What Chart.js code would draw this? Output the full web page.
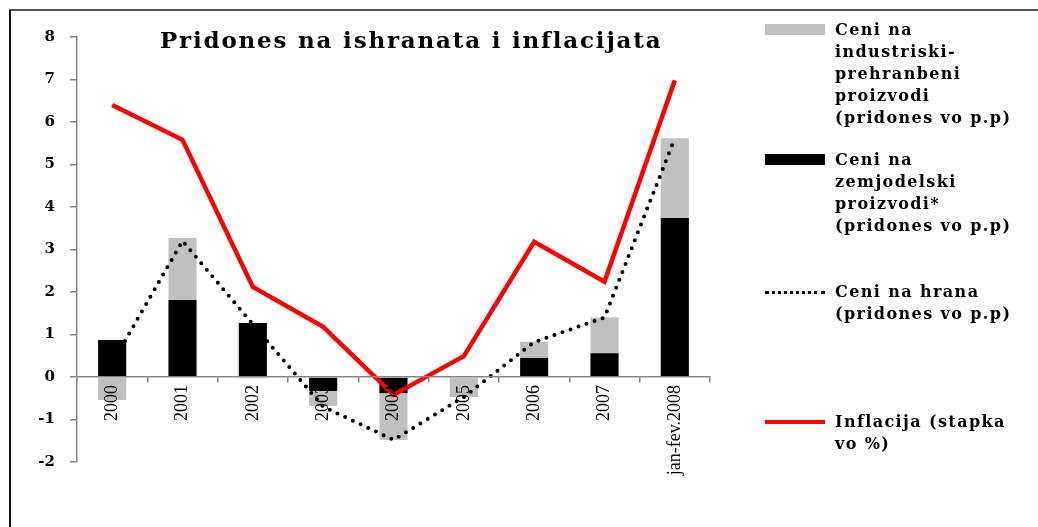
<!DOCTYPE html>
<html>
<head>
<meta charset="utf-8">
<script src="https://cdn.jsdelivr.net/npm/chart.js@4.4.1/dist/chart.umd.min.js"></script>
<style>
    html, body { margin: 0; padding: 0; background: #fff; overflow: hidden; }
    #wrap { position: relative; width: 1038px; height: 527px; overflow: hidden; }
    #frame {
        position: absolute; left: 9px; top: 9px; width: 1100px; height: 600px;
        border-left: 2px solid #111; border-top: 2px solid #555;
    }
    #chart { position: absolute; left: 0; top: 0; }
    #title {
        position: absolute; left: 160px; top: 26px; white-space: nowrap;
        font: bold 23px "DejaVu Serif", serif; letter-spacing: 1.8px; color: #000;
    }
    .leg { position: absolute; left: 765px; }
    .sw { position: absolute; left: 0; width: 60px; }
    .txt {
        position: absolute; left: 70px; white-space: nowrap;
        font: bold 16px "DejaVu Serif", serif; letter-spacing: 1.4px; line-height: 22px; color: #000;
    }
</style>
</head>
<body>
<div id="wrap">
    <div id="frame"></div>
    <canvas id="chart" width="1038" height="527"></canvas>
    <div id="title"></div>
    <div id="legend"></div>
</div>
<script>
// --- data ---
const categories = ['2000', '2001', '2002', '2003', '2004', '2005', '2006', '2007', 'jan-fev.2008'];
const industrialFood = [-0.54, 1.46, -0.03, -0.35, -1.10, -0.47, 0.38, 0.84, 1.88];
const agricultural = [0.87, 1.81, 1.27, -0.33, -0.38, 0.0, 0.45, 0.56, 3.74];
const foodPrices = [0.33, 3.2, 1.24, -0.7, -1.48, -0.47, 0.82, 1.4, 5.62];
const inflation = [6.4, 5.58, 2.12, 1.18, -0.42, 0.49, 3.18, 2.24, 6.98];

const chartTitle = 'Pridones na ishranata i inflacijata';
const legendLines = {
    industrial: ['Ceni na', 'industriski-', 'prehranbeni', 'proizvodi', '(pridones vo p.p)'],
    agricultural: ['Ceni na', 'zemjodelski', 'proizvodi*', '(pridones vo p.p)'],
    food: ['Ceni na hrana', '(pridones vo p.p)'],
    inflation: ['Inflacija (stapka', 'vo %)']
};

const GRAY = '#c0c0c0';
const AXIS = '#868686';

document.getElementById('title').textContent = chartTitle;

/**
 * Legend on the right, built from the label lists
 */
function buildLegend() {
    const items = [
        { lines: legendLines.industrial, top: 30, swatch: { top: -6, height: 11, background: GRAY } },
        { lines: legendLines.agricultural, top: 160, swatch: { top: -6, height: 11, background: '#000' } },
        { lines: legendLines.food, top: 292, swatch: { top: -1, height: 3, dotted: true } },
        { lines: legendLines.inflation, top: 422, swatch: { top: -2, height: 4, background: '#ff0000' } }
    ];
    const legend = document.getElementById('legend');
    items.forEach(item => {
        const box = document.createElement('div');
        box.className = 'leg';
        box.style.top = item.top + 'px';

        const sw = document.createElement('div');
        sw.className = 'sw';
        sw.style.top = item.swatch.top + 'px';
        sw.style.height = item.swatch.height + 'px';
        if (item.swatch.dotted) {
            sw.style.borderTop = '3px dotted #000';
            sw.style.height = '0px';
        } else {
            sw.style.background = item.swatch.background;
        }
        box.appendChild(sw);

        const txt = document.createElement('div');
        txt.className = 'txt';
        txt.style.top = '-11px';
        txt.innerHTML = item.lines.join('<br>');
        box.appendChild(txt);

        legend.appendChild(box);
    });
}
buildLegend();

const ctx = document.getElementById('chart');
new Chart(ctx, {
    type: 'bar',
    data: {
        labels: categories,
        datasets: [
            {
                type: 'line',
                label: legendLines.inflation.join(' '),
                data: inflation,
                stack: 'inflation',
                borderColor: '#ff0000',
                borderWidth: 4.5,
                pointRadius: 0,
                tension: 0,
                fill: false
            },
            {
                type: 'line',
                label: legendLines.food.join(' '),
                data: foodPrices,
                stack: 'food',
                borderColor: '#000',
                borderWidth: 4,
                borderDash: [0, 8.5],
                borderCapStyle: 'round',
                pointRadius: 0,
                tension: 0,
                fill: false
            },
            {
                label: legendLines.agricultural.join(' '),
                data: agricultural,
                stack: 'bars',
                backgroundColor: '#000',
                barPercentage: 0.4,
                categoryPercentage: 1
            },
            {
                label: legendLines.industrial.join(' '),
                data: industrialFood,
                stack: 'bars',
                backgroundColor: GRAY,
                barPercentage: 0.4,
                categoryPercentage: 1
            }
        ]
    },
    options: {
        responsive: false,
        animation: false,
        layout: {
            padding: { left: 8, top: 37, right: 328, bottom: 65 }
        },
        plugins: {
            legend: { display: false },
            title: { display: false },
            tooltip: { enabled: false }
        },
        scales: {
            x: {
                stacked: true,
                position: { y: 0 },
                grid: {
                    offset: true,
                    drawOnChartArea: false,
                    tickLength: 5,
                    color: AXIS,
                    lineWidth: 1.5,
                    z: 1
                },
                border: { color: AXIS, width: 1.5, z: 1 },
                ticks: {
                    autoSkip: false,
                    minRotation: 90,
                    maxRotation: 90,
                    padding: 3,
                    color: '#000',
                    z: 1,
                    font: { family: 'Liberation Serif', size: 18 }
                }
            },
            y: {
                stacked: true,
                min: -2,
                max: 8,
                grid: {
                    drawOnChartArea: false,
                    tickLength: 7,
                    color: AXIS,
                    lineWidth: 1.5
                },
                border: { color: AXIS, width: 1.5 },
                ticks: {
                    stepSize: 1,
                    padding: 15,
                    color: '#000',
                    font: { family: 'DejaVu Serif', size: 15, weight: 'bold' }
                },
                afterFit(scale) {
                    scale.width = 69;
                }
            }
        }
    }
});
</script>
</body>
</html>
